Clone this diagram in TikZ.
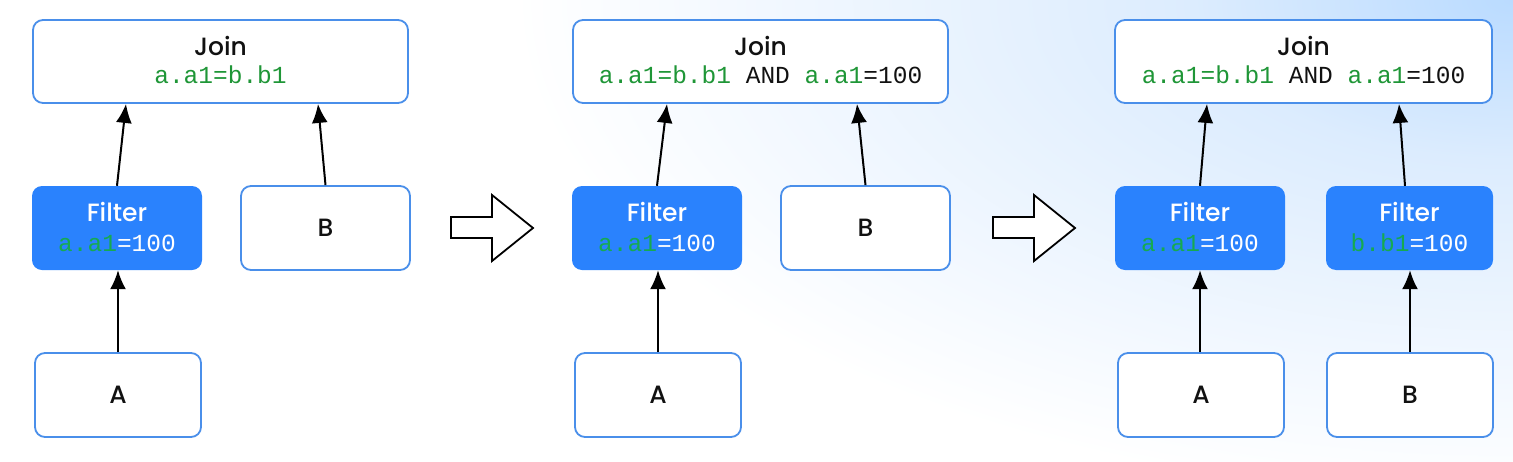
\documentclass[tikz,border=0pt]{standalone}
\usepackage{fontspec}
\setsansfont{Poppins Medium}
\setmonofont{Liberation Mono}
\usetikzlibrary{arrows.meta}
\definecolor{bgA}{RGB}{186,219,255}
\definecolor{bgB}{RGB}{220,236,254}
\definecolor{fblue}{RGB}{42,130,253}
\definecolor{bblue}{RGB}{74,143,234}
\definecolor{cgreen}{RGB}{31,150,55}
\definecolor{fgreen}{RGB}{22,170,80}
\definecolor{ink}{RGB}{17,17,17}
\pgfdeclareradialshading{bgrad}{\pgfpoint{0bp}{0bp}}{color(0bp)=(bgA); color(8bp)=(bgB); color(25bp)=(white); color(50bp)=(white)}
\tikzset{
  wbox/.style={draw=bblue, line width=1.8pt, fill=white, rounded corners=10pt, inner sep=0pt, font=\sffamily\fontsize{25}{30}\selectfont, text=ink},
  fbox/.style={fill=fblue, rounded corners=10pt, inner sep=0pt},
  ttl/.style={anchor=base, inner sep=0pt, font=\sffamily\fontsize{25}{30}\selectfont},
  code/.style={anchor=base, inner sep=0pt, text=ink, font=\ttfamily\fontsize{24.5}{28}\selectfont},
  arr/.style={line width=2pt, -{Latex[length=19pt,width=16pt]}},
  bigarr/.style={draw=black, line width=1.8pt, fill=white, line join=miter}
}
\begin{document}
\begin{tikzpicture}[x=1pt,y=-1pt]
\useasboundingbox (0,0) rectangle (1513,461);
\begin{scope}
\clip (0,0) rectangle (1513,461);
\fill[white] (0,0) rectangle (1513,461);
\begin{scope}[shift={(1513,0)}, yscale=0.5]
\shade[shading=bgrad] (-1000,-1000) rectangle (1000,1000);
\end{scope}
\end{scope}

% ---------- Panel 1 ----------
\node[wbox, minimum width=375pt, minimum height=83pt] (j1) at (220.5,61.5) {};
\node[ttl, text=ink] (j1t) at (220.5,55) {Join};
\node[code, text=cgreen] (j1c) at (220.5,83) {a.a1=b.b1};
\node[fbox, minimum width=170pt, minimum height=84pt] (f1) at (117,228) {};
\node[ttl, text=white] (f1t) at (117,221) {Filter};
\node[code, text=white] (f1c) at (117,251) {\textcolor{fgreen}{a.a1}=100};
\node[wbox, minimum width=169pt, minimum height=84pt] (b1) at (325.5,228) {B};
\node[wbox, minimum width=166pt, minimum height=84pt] (a1) at (118,395) {A};
\draw[arr] (f1.north) -- (j1.south -| 126,0);
\draw[arr] (b1.north) -- (j1.south -| 318,0);
\draw[arr] (a1.north) -- (f1.south -| 118,0);

% big arrow 1
\draw[bigarr] (451,217) -- (492,217) -- (492,195) -- (533,228) -- (492,261) -- (492,238) -- (451,238) -- cycle;

% ---------- Panel 2 ----------
\node[wbox, minimum width=375pt, minimum height=83pt] (j2) at (760.5,61.5) {};
\node[ttl, text=ink] (j2t) at (760.5,55) {Join};
\node[code] (j2c) at (760.5,83) {\textcolor{cgreen}{a.a1=b.b1} AND \textcolor{cgreen}{a.a1}=100};
\node[fbox, minimum width=170pt, minimum height=84pt] (f2) at (657,228) {};
\node[ttl, text=white] (f2t) at (657,221) {Filter};
\node[code, text=white] (f2c) at (657,251) {\textcolor{fgreen}{a.a1}=100};
\node[wbox, minimum width=169pt, minimum height=84pt] (b2) at (865.5,228) {B};
\node[wbox, minimum width=166pt, minimum height=84pt] (a2) at (658,395) {A};
\draw[arr] (f2.north) -- (j2.south -| 667,0);
\draw[arr] (b2.north) -- (j2.south -| 857,0);
\draw[arr] (a2.north) -- (f2.south -| 658,0);

% big arrow 2
\draw[bigarr] (993,217) -- (1034,217) -- (1034,195) -- (1075,228) -- (1034,261) -- (1034,238) -- (993,238) -- cycle;

% ---------- Panel 3 ----------
\node[wbox, minimum width=377pt, minimum height=83pt] (j3) at (1303.5,61.5) {};
\node[ttl, text=ink] (j3t) at (1303.5,55) {Join};
\node[code] (j3c) at (1303.5,83) {\textcolor{cgreen}{a.a1=b.b1} AND \textcolor{cgreen}{a.a1}=100};
\node[fbox, minimum width=170pt, minimum height=84pt] (f3) at (1200,228) {};
\node[ttl, text=white] (f3t) at (1200,221) {Filter};
\node[code, text=white] (f3c) at (1200,251) {\textcolor{fgreen}{a.a1}=100};
\node[fbox, minimum width=167pt, minimum height=84pt] (g3) at (1409.5,228) {};
\node[ttl, text=white] (g3t) at (1409.5,221) {Filter};
\node[code, text=white] (g3c) at (1409.5,251) {\textcolor{fgreen}{b.b1}=100};
\node[wbox, minimum width=166pt, minimum height=84pt] (a3) at (1201,395) {A};
\node[wbox, minimum width=166pt, minimum height=84pt] (b3) at (1410,395) {B};
\draw[arr] (f3.north) -- (j3.south -| 1207,0);
\draw[arr] (g3.north -| 1405,0) -- (j3.south -| 1399,0);
\draw[arr] (a3.north -| 1200,0) -- (f3.south -| 1200,0);
\draw[arr] (b3.north) -- (g3.south -| 1410,0);
\end{tikzpicture}
\end{document}
